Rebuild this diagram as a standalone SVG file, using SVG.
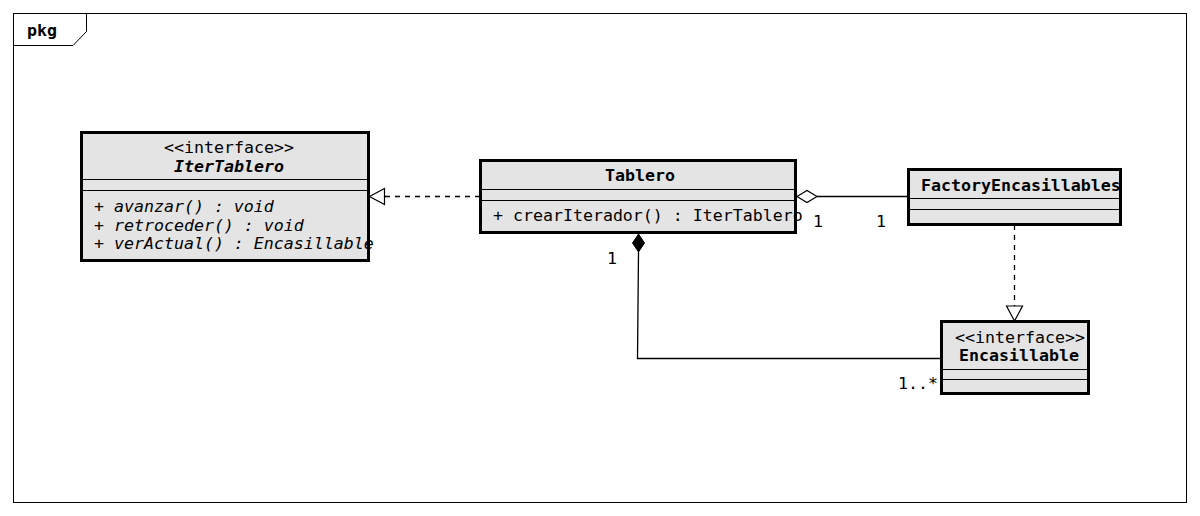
<svg xmlns="http://www.w3.org/2000/svg" width="1200" height="516" viewBox="0 0 1200 516">
<style>
text{font-family:"DejaVu Sans Mono",monospace;font-size:16.6px;fill:#000}
.b{font-weight:bold}
.i{font-style:italic}
.box{fill:#e4e4e4;stroke:#000;stroke-width:3}
.sep{stroke:#000;stroke-width:1.2}
.ln{fill:none;stroke:#000;stroke-width:1.3}
.dash{stroke-dasharray:5,5}
</style>
<rect x="0" y="0" width="1200" height="516" fill="#fff"/>
<g id="frame">
<rect x="13.5" y="13.5" width="1173" height="489" fill="none" stroke="#000" stroke-width="1"/>
<path d="M13.5 45.5 H73 L86.5 31.5 V13.5" fill="none" stroke="#000" stroke-width="1"/>
<text x="27" y="36" class="b">pkg</text>
</g>
<g id="connectors">
<path class="ln dash" d="M480 196.5 H384"/>
<polygon points="369.5,196.5 384.5,188.5 384.5,204.5" fill="#fff" stroke="#000" stroke-width="1.2"/>
<path class="ln" d="M817 196.5 H908"/>
<polygon points="797,196.5 807,190.5 817,196.5 807,202.5" fill="#fff" stroke="#000" stroke-width="1.2"/>
<text x="813" y="227">1</text>
<text x="876" y="227">1</text>
<path class="ln dash" d="M1014.5 225 V306"/>
<polygon points="1014.5,321 1006.5,306 1022.5,306" fill="#fff" stroke="#000" stroke-width="1.2"/>
<path class="ln" d="M638.5 252 L637.5 358.5 H941"/>
<polygon points="638.5,234 644.5,243 638.5,252 632.5,243" fill="#000" stroke="#000" stroke-width="1"/>
<text x="607" y="264">1</text>
<text x="898" y="389">1..*</text>
</g>
<g id="IterTablero">
<rect class="box" x="81.5" y="132.5" width="287" height="128"/>
<line class="sep" x1="81" y1="179.5" x2="369" y2="179.5"/>
<line class="sep" x1="81" y1="190.5" x2="369" y2="190.5"/>
<text x="229" y="153" text-anchor="middle">&lt;&lt;interface&gt;&gt;</text>
<text x="229" y="172" text-anchor="middle" class="b i">IterTablero</text>
<text x="94" y="212" class="i">+ avanzar() : void</text>
<text x="94" y="231" class="i">+ retroceder() : void</text>
<text x="94" y="249" class="i">+ verActual() : Encasillable</text>
</g>
<g id="Tablero">
<rect class="box" x="480.5" y="160.5" width="315" height="72"/>
<line class="sep" x1="480" y1="189.5" x2="796" y2="189.5"/>
<line class="sep" x1="480" y1="200.5" x2="796" y2="200.5"/>
<text x="640" y="181" text-anchor="middle" class="b">Tablero</text>
<text x="493" y="221">+ crearIterador() : IterTablero</text>
</g>
<g id="FactoryEncasillables">
<rect class="box" x="908.5" y="169.5" width="212" height="55"/>
<line class="sep" x1="908" y1="198.5" x2="1121" y2="198.5"/>
<line class="sep" x1="908" y1="209.5" x2="1121" y2="209.5"/>
<text x="921" y="191" class="b">FactoryEncasillables</text>
</g>
<g id="Encasillable">
<rect class="box" x="941.5" y="321.5" width="147" height="72"/>
<line class="sep" x1="941" y1="369.5" x2="1089" y2="369.5"/>
<line class="sep" x1="941" y1="379.5" x2="1089" y2="379.5"/>
<text x="1020" y="343" text-anchor="middle">&lt;&lt;interface&gt;&gt;</text>
<text x="1019" y="361" text-anchor="middle" class="b">Encasillable</text>
</g>
</svg>
